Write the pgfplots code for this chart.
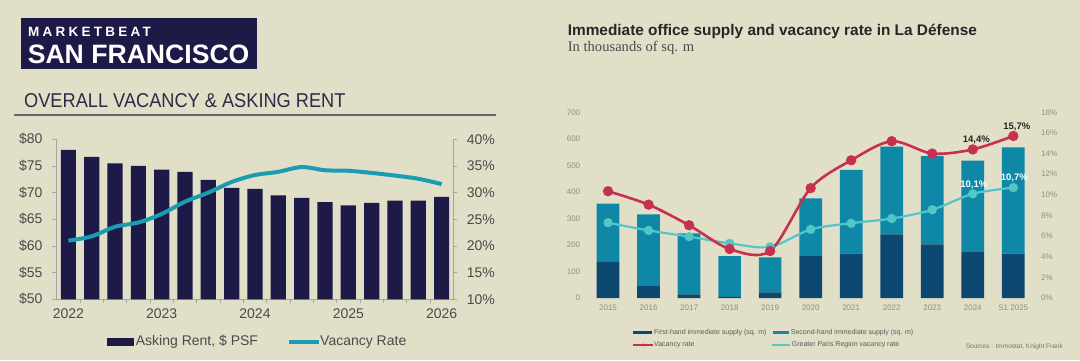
\documentclass[border=0pt]{standalone}
\usepackage{pgfplots}
\usepackage{pgfplotstable}
\pgfplotsset{compat=1.18}
\usepackage{fontspec}
\setmainfont{Liberation Sans}
\newfontfamily\seriffont{Liberation Serif}
\newfontfamily\mbfont[LetterSpace=24]{Liberation Sans Bold}
\definecolor{bg}{HTML}{E1DFC8}
\definecolor{navy}{HTML}{1E1A48}
\definecolor{sfteal}{HTML}{1A9DB2}
\definecolor{fh}{HTML}{0C4870}
\definecolor{sh}{HTML}{0F88A8}
\definecolor{vred}{HTML}{C8304F}
\definecolor{gcyan}{HTML}{55C6C8}
\definecolor{axgrey}{HTML}{A5A5A0}
\definecolor{lbl}{HTML}{4A4A4A}
\definecolor{rlbl}{HTML}{8E8E86}
\definecolor{ttl}{HTML}{2B2B45}
\newcommand{\fs}[1]{\fontsize{#1bp}{#1bp}\selectfont}

\pgfplotstableread{
x rent vac
0 78.0 21.0
1 76.7 21.8
2 75.5 23.6
3 75.0 24.4
4 74.3 26.0
5 73.9 28.3
6 72.4 30.0
7 70.9 32.0
8 70.7 33.3
9 69.5 33.9
10 69.0 34.8
11 68.2 34.2
12 67.6 34.1
13 68.1 33.7
14 68.5 33.2
15 68.5 32.6
16 69.2 31.6
}\sfdata

\pgfplotstableread{
x first second vac gp
0 136 220 10.35 7.3
1 48 267 9.05 6.55
2 14 230 7.05 5.95
3 4 154 4.75 5.3
4 21 132 4.55 4.95
5 161 215 10.65 6.65
6 167 316 13.35 7.25
7 240 331 15.2 7.7
8 202 333 14.0 8.55
9 173 345 14.4 10.1
10 167 401 15.7 10.7
}\ladata

\begin{document}
\begin{tikzpicture}[x=1bp,y=1bp]
\fill[bg] (0,0) rectangle (1080,360);
\useasboundingbox (0,0) rectangle (1080,360);

% ---------- Left header ----------
\fill[navy] (20.5,290.7) rectangle (257,341.7);
\node[anchor=base west, inner sep=0, text=white, font=\mbfont\fs{13.5}] at (28,324) {MARKETBEAT};
\node[anchor=base west, inner sep=0, text=white, font=\bfseries\fs{26.6}] at (27.6,296.7) {SAN FRANCISCO};
\node[anchor=base west, inner sep=0, text=ttl, font=\fs{20}] at (24,252.7) {\scalebox{0.91}[1]{OVERALL VACANCY \& ASKING RENT}};
\draw[line width=1.2bp, color=black!60] (14,245) -- (496,245);

% ---------- Left chart ----------
\begin{axis}[at={(56bp,60.7bp)}, anchor=south west, scale only axis,
  width=397.3bp, height=160bp,
  xmin=-0.53, xmax=16.5, ymin=50, ymax=80,
  ytick={50,55,...,80},
  yticklabel={\$\pgfmathprintnumber{\tick}},
  /pgf/number format/assume math mode=true,
  axis x line*=bottom, axis y line*=left,
  axis line style={-, axgrey, line width=0.9bp},
  every outer x axis line/.append style={-},
  every outer y axis line/.append style={-},
  tick style={axgrey, line width=0.9bp},
  tick align=outside, major tick length=4bp,
  xtick={0.5,1.5,...,15.5}, xticklabels={},
  extra x ticks={0,4,8,12,16},
  extra x tick labels={2022,2023,2024,2025,2026},
  extra x tick style={major tick length=0pt, xticklabel style={yshift=-6bp}},
  ticklabel style={font=\fs{14}, text=lbl},
  yticklabel style={xshift=-6bp},
  ybar, bar width=15.2bp]
\addplot[fill=navy, draw=none] table[x=x,y=rent]{\sfdata};
\end{axis}
\begin{axis}[at={(56bp,60.7bp)}, anchor=south west, scale only axis,
  width=397.3bp, height=160bp,
  xmin=-0.53, xmax=16.5, ymin=10, ymax=40,
  ytick={10,15,...,40},
  yticklabel={\pgfmathprintnumber{\tick}\%},
  /pgf/number format/assume math mode=true,
  axis y line*=right, axis x line=none,
  axis line style={-, axgrey, line width=0.9bp},
  every outer y axis line/.append style={-},
  tick style={axgrey, line width=0.9bp},
  tick align=outside, major tick length=4bp,
  ticklabel style={font=\fs{14}, text=lbl},
  yticklabel style={xshift=6bp}]
\addplot[sfteal, line width=4bp, smooth, mark=none] table[x=x,y=vac]{\sfdata};
\end{axis}

% left legend
\fill[navy] (106.7,14.3) rectangle (134,22);
\node[anchor=west, inner sep=0, text=lbl, font=\fs{14}] at (135.7,18.3) {Asking Rent, \$ PSF};
\draw[sfteal, line width=4bp] (289.3,18.3) -- (319.3,18.3);
\node[anchor=west, inner sep=0, text=lbl, font=\fs{14}] at (320,18.3) {Vacancy Rate};

% ---------- Right header ----------
\node[anchor=base west, inner sep=0, text=black!85, font=\bfseries\fs{15.4}] at (567.6,325) {Immediate office supply and vacancy rate in La Défense};
\node[anchor=base west, inner sep=0, text=black!70, font=\seriffont\fs{14.6}] at (567.6,308.5) {In thousands of sq. m};

% ---------- Right chart ----------
\begin{axis}[at={(583.7bp,62bp)}, anchor=south west, scale only axis,
  width=453.9bp, height=185.7bp,
  xmin=-0.6, xmax=10.6, ymin=0, ymax=700,
  ytick={0,100,...,700},
  xtick={0,...,10},
  xticklabels={2015,2016,2017,2018,2019,2020,2021,2022,2023,2024,S1 2025},
  /pgf/number format/assume math mode=true,
  axis line style={draw=none}, major tick length=0pt,
  ticklabel style={font=\fs{8}, text=rlbl},
  xticklabel style={yshift=-3bp},
  ybar stacked, bar width=22.7bp]
\addplot[fill=fh, draw=none] table[x=x,y=first]{\ladata};
\addplot[fill=sh, draw=none] table[x=x,y=second]{\ladata};
\end{axis}
\begin{axis}[at={(583.7bp,62bp)}, anchor=south west, scale only axis,
  width=453.9bp, height=185.7bp,
  xmin=-0.6, xmax=10.6, ymin=0, ymax=18,
  ytick={0,2,...,18},
  yticklabel={\pgfmathprintnumber{\tick}\%},
  /pgf/number format/assume math mode=true,
  axis y line*=right, axis x line=none,
  axis line style={draw=none}, major tick length=0pt,
  ticklabel style={font=\fs{8}, text=rlbl},
  clip=false]
\addplot[gcyan, line width=2.2bp, smooth, mark=*, mark size=3.5bp, mark options={fill=gcyan, draw=gcyan}] table[x=x,y=gp]{\ladata};
\addplot[vred, line width=2.6bp, smooth, mark=*, mark size=3.8bp, mark options={fill=vred, draw=vred}] table[x=x,y=vac]{\ladata};
\addplot[draw=none, mark=none, nodes near coords, point meta=explicit symbolic,
  nodes near coords style={font=\bfseries\fs{9.5}, text=black!85, anchor=center, xshift=3.5bp, yshift=9.5bp}]
  coordinates {(9,14.4) [14{,}4\%] (10,15.7) [15{,}7\%]};
\addplot[draw=none, mark=none, nodes near coords, point meta=explicit symbolic,
  nodes near coords style={font=\bfseries\fs{9.5}, text=white, anchor=center, xshift=1bp, yshift=9.3bp}]
  coordinates {(9,10.1) [10{,}1\%] (10,10.7) [10{,}7\%]};
\end{axis}

% right legend
\fill[fh] (633,26) rectangle (651.7,29.4);
\node[anchor=west, inner sep=0, text=black!65, font=\fs{7}] at (654,27.7) {First-hand immediate supply (sq. m)};
\fill[sh] (773,26) rectangle (789.3,29.4);
\node[anchor=west, inner sep=0, text=black!65, font=\fs{7}] at (790.7,27.7) {Second-hand immediate supply (sq. m)};
\draw[vred, line width=1.2bp] (633,15) -- (653,15);
\fill[vred] (643,15) circle (1.6bp);
\node[anchor=west, inner sep=0, text=black!65, font=\fs{7}] at (654,15) {Vacancy rate};
\draw[gcyan, line width=1.2bp] (771.7,15) -- (790,15);
\fill[gcyan] (781,15) circle (1.6bp);
\node[anchor=west, inner sep=0, text=black!65, font=\fs{7}] at (791.7,15) {Greater Paris Region vacancy rate};
\node[anchor=east, inner sep=0, text=black!55, font=\fs{6.5}] at (1063,13) {Sources : Immostat, Knight Frank};
\end{tikzpicture}
\end{document}
